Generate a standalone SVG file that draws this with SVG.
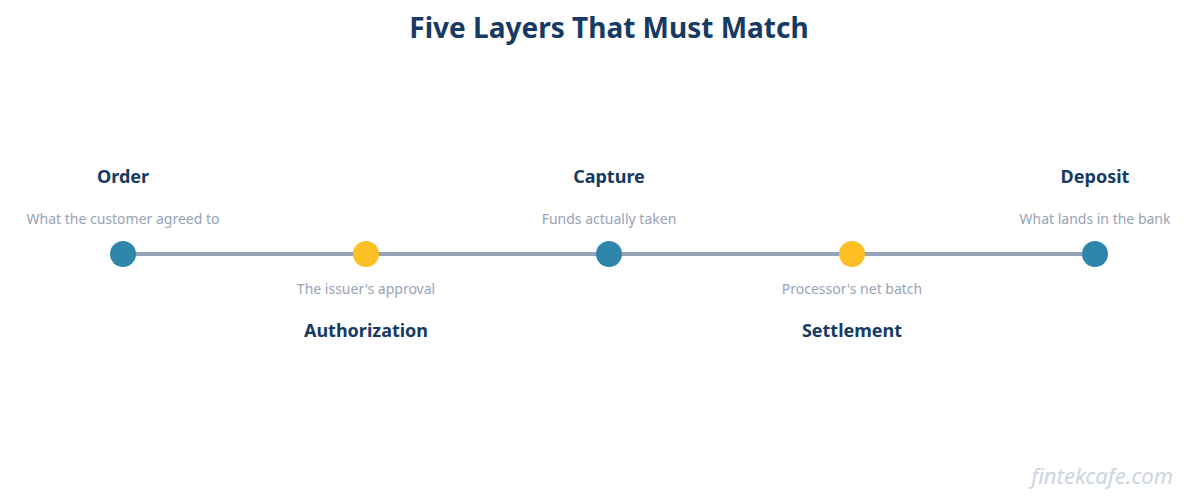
<svg xmlns="http://www.w3.org/2000/svg" width="1195" height="504" viewBox="0 0 1195 504">
<style>
.t{font-family:"Noto Sans","Open Sans",sans-serif;font-weight:bold;font-size:18px;fill:#163a63;text-anchor:middle}
.s{font-family:"Noto Sans","Open Sans",sans-serif;font-size:14px;fill:#97a3b6;text-anchor:middle}
</style>
<rect width="1195" height="504" fill="#fff"/>
<text x="609" y="38" class="t" style="font-size:28px">Five Layers That Must Match</text>
<g id="connectors"><line x1="123" y1="254" x2="1095" y2="254" stroke="#94a3b8" stroke-width="4"/></g>
<g id="order"><circle cx="123" cy="254" r="13" fill="#2e86ab"/><text x="123" y="183" class="t">Order</text><text x="123" y="224" class="s">What the customer agreed to</text></g>
<g id="authorization"><circle cx="366" cy="254" r="13" fill="#fdbf24"/><text x="366" y="294" class="s">The issuer's approval</text><text x="366" y="337" class="t">Authorization</text></g>
<g id="capture"><circle cx="609" cy="254" r="13" fill="#2e86ab"/><text x="609" y="183" class="t">Capture</text><text x="609" y="224" class="s">Funds actually taken</text></g>
<g id="settlement"><circle cx="852" cy="254" r="13" fill="#fdbf24"/><text x="852" y="294" class="s">Processor's net batch</text><text x="852" y="337" class="t">Settlement</text></g>
<g id="deposit"><circle cx="1095" cy="254" r="13" fill="#2e86ab"/><text x="1095" y="183" class="t">Deposit</text><text x="1095" y="224" class="s">What lands in the bank</text></g>
<text x="1173" y="484" style="font-family:'Noto Sans',sans-serif;font-style:italic;font-size:22px;fill:#cbd5e1;text-anchor:end">fintekcafe.com</text>
</svg>
